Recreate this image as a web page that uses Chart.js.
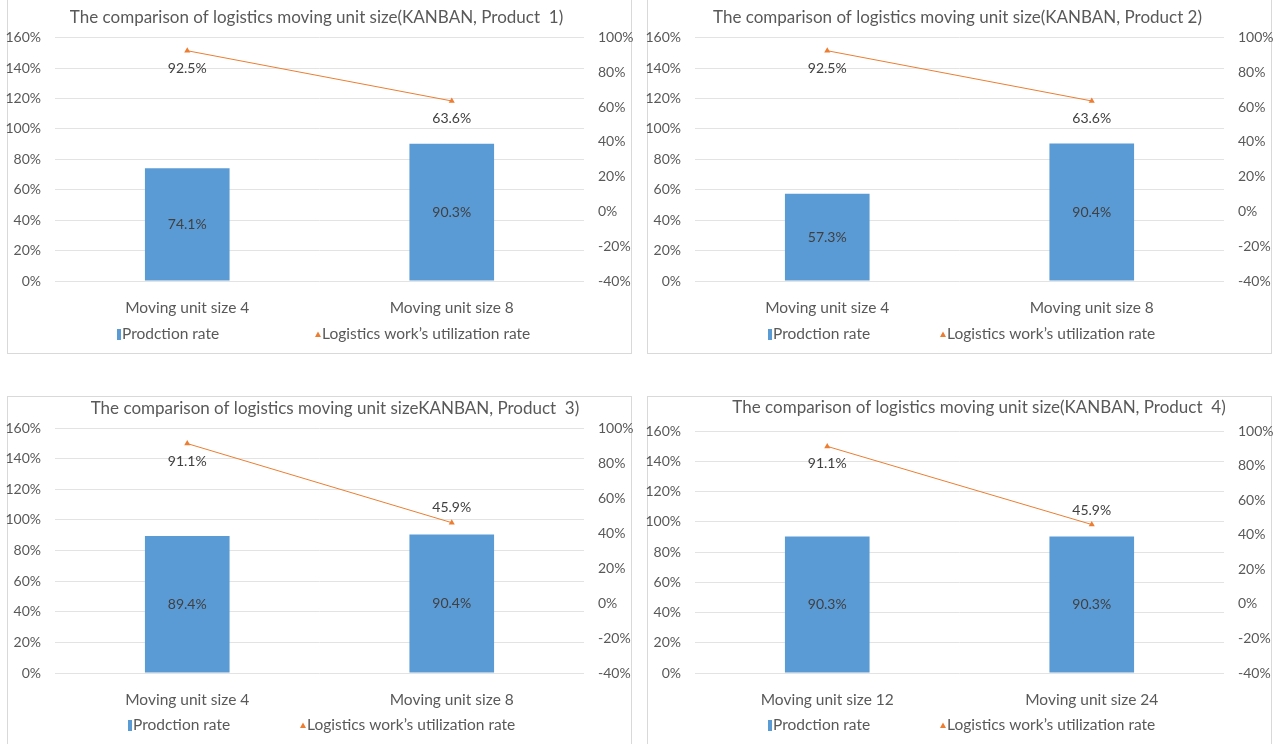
<!DOCTYPE html>
<html><head><meta charset="utf-8">
<script src="https://cdn.jsdelivr.net/npm/chart.js@4.4.1/dist/chart.umd.min.js"></script>
<style>
html,body{margin:0;padding:0;width:1278px;height:744px;overflow:hidden;background:#fff;}
.panel{position:absolute;border:1px solid #d9d9d9;box-sizing:border-box;}
canvas{position:absolute;}
</style></head><body>
<div class="panel" style="left:7px;top:-1px;width:625px;height:355px"></div>
<div class="panel" style="left:647px;top:-1px;width:625px;height:355px"></div>
<div class="panel" style="left:7px;top:396px;width:625px;height:380px"></div>
<div class="panel" style="left:647px;top:396px;width:625px;height:380px"></div>
<canvas id="c1" width="700" height="353" style="left:-10px;top:0"></canvas>
<canvas id="c2" width="700" height="353" style="left:630px;top:0"></canvas>
<canvas id="c3" width="700" height="347" style="left:-10px;top:397px"></canvas>
<canvas id="c4" width="700" height="347" style="left:630px;top:397px"></canvas>
<script>
// ---- data ----
const titles = [
  'The comparison of logistics moving unit size(KANBAN, Product  1)',
  'The comparison of logistics moving unit size(KANBAN, Product 2)',
  'The comparison of logistics moving unit sizeKANBAN, Product  3)',
  'The comparison of logistics moving unit size(KANBAN, Product  4)'
];
const categoriesA = ['Moving unit size 4', 'Moving unit size 8'];
const categoriesB = ['Moving unit size 12', 'Moving unit size 24'];
const seriesNames = ['Prodction rate', 'Logistics work\u2019s utilization rate'];
const production1 = [74.1, 90.3];
const utilization1 = [92.5, 63.6];
const production2 = [57.3, 90.4];
const utilization2 = [92.5, 63.6];
const production3 = [89.4, 90.4];
const utilization3 = [91.1, 45.9];
const production4 = [90.3, 90.3];
const utilization4 = [91.1, 45.9];
const leftTicks = [0, 20, 40, 60, 80, 100, 120, 140, 160];
const rightTicks = [-40, -20, 0, 20, 40, 60, 80, 100];

// ---- style / layout ----
const FAM = 'Lato, Carlito, Calibri, sans-serif';
const TEXT = '#595959';
const BAR = '#5B9BD5', LINE = '#ED7D31';
const SIZE = {title: 17, tick: 14, xlab: 15.5, legend: 15.5, value: 14};
const E = 10;                    // canvas starts E px left of the panel origin
const CW = 700, PLOT_L = 55 + E, PLOT_R = 584 + E;
const layouts = [
  {H: 353, titleCenter: 17.3, plotTop: 37.7, plotBottom: 281, titleX: 316.5, legendX: [122, 322], legendY: 334, offsets: [17.5, 17.5]},
  {H: 353, titleCenter: 17.3, plotTop: 37.7, plotBottom: 281, titleX: 317.5, legendX: [133, 307], legendY: 334, offsets: [17.5, 18]},
  {H: 347, titleCenter: 11.5, plotTop: 31, plotBottom: 276, titleX: 335, legendX: [133, 307], legendY: 328, offsets: [18, -15]},
  {H: 347, titleCenter: 11, plotTop: 34, plotBottom: 276, titleX: 339, legendX: [133, 307], legendY: 328, offsets: [17, -14]}
];

const valueLabels = {
  id: 'valueLabels',
  afterDatasetsDraw(chart, args, opts) {
    const ctx = chart.ctx;
    ctx.save();
    ctx.font = SIZE.value + 'px ' + FAM;
    ctx.fillStyle = '#404040';
    ctx.textAlign = 'center';
    ctx.textBaseline = 'middle';
    chart.data.datasets.forEach((ds, di) => {
      const meta = chart.getDatasetMeta(di);
      meta.data.forEach((el, i) => {
        const txt = ds.data[i].toFixed(1) + '%';
        const y = meta.type === 'bar' ? (el.y + el.base) / 2 : el.y + opts.offsets[i];
        ctx.fillText(txt, el.x, y);
      });
    });
    ctx.restore();
  }
};

// legend row: marker just left of each series name, names from the datasets
const legendRow = {
  id: 'legendRow',
  afterDraw(chart, args, o) {
    const ctx = chart.ctx;
    ctx.save();
    ctx.font = SIZE.legend + 'px ' + FAM;
    ctx.textAlign = 'left';
    ctx.textBaseline = 'middle';
    chart.data.datasets.forEach((ds, i) => {
      const x = o.x[i] + E, y = o.y;
      if (ds.type === 'bar') {
        ctx.fillStyle = ds.backgroundColor;
        ctx.fillRect(x - 5, Math.round(y - 5.5), 4, 11);
      } else {
        ctx.fillStyle = ds.borderColor;
        ctx.beginPath();
        ctx.moveTo(x - 4, y - 2.5); ctx.lineTo(x - 1, y + 3); ctx.lineTo(x - 7, y + 3);
        ctx.closePath(); ctx.fill();
      }
      ctx.fillStyle = TEXT;
      ctx.fillText(ds.label, x, y);
    });
    ctx.restore();
  }
};

function makeChart(id, title, cats, prod, util, L) {
  const R = 2 * (L.titleX + E);          // title box right edge => title centred at titleX
  const tLH = SIZE.title * 1.2;
  const tPadTop = Math.max(0, L.titleCenter - tLH / 2);
  const tPadBottom = L.plotTop - tPadTop - tLH;
  const pct = v => v + '%';

  new Chart(document.getElementById(id), {
    type: 'bar',
    data: {
      labels: cats,
      datasets: [
        {type: 'bar', label: seriesNames[0], data: prod, backgroundColor: BAR,
         barPercentage: 0.32, categoryPercentage: 1, yAxisID: 'y'},
        {type: 'line', label: seriesNames[1], data: util, borderColor: LINE, backgroundColor: LINE,
         borderWidth: 1, pointStyle: 'triangle', pointRadius: 3.5, pointBorderWidth: 0, tension: 0, yAxisID: 'y1'}
      ]
    },
    options: {
      responsive: false, animation: false, events: [],
      layout: {padding: {left: 0, right: CW - R, top: 0, bottom: 0}},
      plugins: {
        title: {display: true, text: title, color: TEXT, font: {family: FAM, size: SIZE.title, weight: 'normal'},
                padding: {top: tPadTop, bottom: tPadBottom}},
        legend: {display: false},
        tooltip: {enabled: false},
        valueLabels: {offsets: L.offsets},
        legendRow: {x: L.legendX, y: L.legendY}
      },
      scales: {
        x: {offset: true, grid: {display: false, drawTicks: false}, border: {display: false},
            ticks: {color: TEXT, font: {family: FAM, size: SIZE.xlab}, padding: 17.7, maxRotation: 0},
            afterFit(s) { s.height = L.H - L.plotBottom; }},
        y: {position: 'left', min: leftTicks[0], max: leftTicks[leftTicks.length - 1],
            ticks: {stepSize: leftTicks[1] - leftTicks[0], callback: pct, color: TEXT, padding: 14,
                    font: {family: FAM, size: SIZE.tick}},
            grid: {color: '#e3e3e3', drawTicks: false}, border: {display: false},
            afterFit(s) { s.width = PLOT_L; }},
        y1: {position: 'right', min: rightTicks[0], max: rightTicks[rightTicks.length - 1],
            ticks: {stepSize: rightTicks[1] - rightTicks[0], callback: pct, color: TEXT, padding: 14,
                    font: {family: FAM, size: SIZE.tick}},
            grid: {display: false, drawTicks: false}, border: {display: false},
            afterFit(s) { s.width = R - PLOT_R; }}
      }
    },
    plugins: [valueLabels, legendRow]
  });
}

makeChart('c1', titles[0], categoriesA, production1, utilization1, layouts[0]);
makeChart('c2', titles[1], categoriesA, production2, utilization2, layouts[1]);
makeChart('c3', titles[2], categoriesA, production3, utilization3, layouts[2]);
makeChart('c4', titles[3], categoriesB, production4, utilization4, layouts[3]);
</script>
</body></html>
